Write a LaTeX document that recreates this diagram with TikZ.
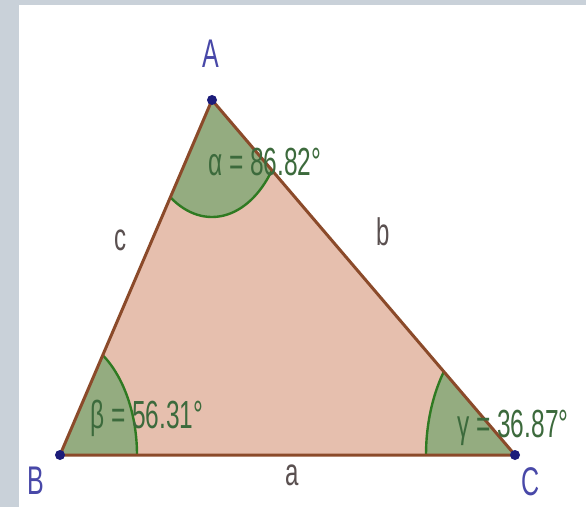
\documentclass[tikz,border=0pt]{standalone}
\usepackage{fontspec}
\setmainfont{Liberation Sans}
\definecolor{frame}{HTML}{C9D1D9}
\definecolor{tri}{HTML}{E6BFAE}
\definecolor{edge}{HTML}{8B4A2A}
\definecolor{sector}{HTML}{94AC80}
\definecolor{arcline}{HTML}{2F7A22}
\definecolor{pt}{HTML}{1C1C7A}
\definecolor{ptlbl}{HTML}{4848A8}
\definecolor{sidelbl}{HTML}{5A5050}
\definecolor{anglbl}{HTML}{3C6A3C}
\newcommand{\tall}[1]{\scalebox{1}[1.6]{#1}}
\begin{document}
\begin{tikzpicture}[x=1pt, y=1pt]
  \tikzset{dot/.style={circle, fill=pt, inner sep=0pt, minimum size=10pt}}
  \tikzset{vlbl/.style={text=ptlbl, font=\fontsize{25}{28}\selectfont}}
  \tikzset{slbl/.style={text=sidelbl, font=\fontsize{24}{27}\selectfont}}
  \tikzset{albl/.style={text=anglbl, anchor=west, inner sep=0pt, font=\fontsize{24.5}{27}\selectfont}}
  \tikzset{wedge/.style={fill=sector}}
  \tikzset{rim/.style={draw=arcline, line width=2.4pt}}
  \useasboundingbox (0,0) rectangle (586,507);
  % frame
  \fill[frame] (0,0) rectangle (586,507);
  \fill[white] (19,0) rectangle (586,502);
  % vertices
  \coordinate (A) at (212,407);
  \coordinate (B) at (60,52);
  \coordinate (C) at (515,52);
  \fill[tri] (A) -- (B) -- (C) -- cycle;
  % angle sectors
  \begin{scope}[shift={(B)}, yscale=1.56]
    \fill[wedge] (0,0) -- (0:77) arc[start angle=0, end angle=56.31, radius=77] -- cycle;
    \draw[rim] (0:77) arc[start angle=0, end angle=56.31, radius=77];
  \end{scope}
  \begin{scope}[shift={(C)}, yscale=1.56]
    \fill[wedge] (0,0) -- (180:89) arc[start angle=180, end angle=143.13, radius=89] -- cycle;
    \draw[rim] (180:89) arc[start angle=180, end angle=143.13, radius=89];
  \end{scope}
  \begin{scope}[shift={(A)}, yscale=1.56]
    \fill[wedge] (0,0) -- (236.31:75) arc[start angle=236.31, end angle=323.13, radius=75] -- cycle;
    \draw[rim] (236.31:75) arc[start angle=236.31, end angle=323.13, radius=75];
  \end{scope}
  % sides
  \draw[edge, line width=3pt, line join=round] (A) -- (B) -- (C) -- cycle;
  % points
  \node[dot] (pA) at (A) {};
  \node[dot] (pB) at (B) {};
  \node[dot] (pC) at (C) {};
  \node[vlbl] (lA) at (211,453) {\tall{A}};
  \node[vlbl] (lB) at (36,26) {\tall{B}};
  \node[vlbl] (lC) at (531,25) {\tall{C}};
  % side names
  \node[slbl] (la) at (292,32) {\tall{a}};
  \node[slbl] (lb) at (383,275) {\tall{b}};
  \node[slbl] (lc) at (120,267) {\tall{c}};
  % angle values
  \node[albl] (alpha) at (208,345) {\tall{α = 86.82°}};
  \node[albl] (beta) at (90,89) {\tall{β = 56.31°}};
  \node[albl] (gamma) at (457,79) {\tall{γ = 36.87°}};
\end{tikzpicture}
\end{document}
